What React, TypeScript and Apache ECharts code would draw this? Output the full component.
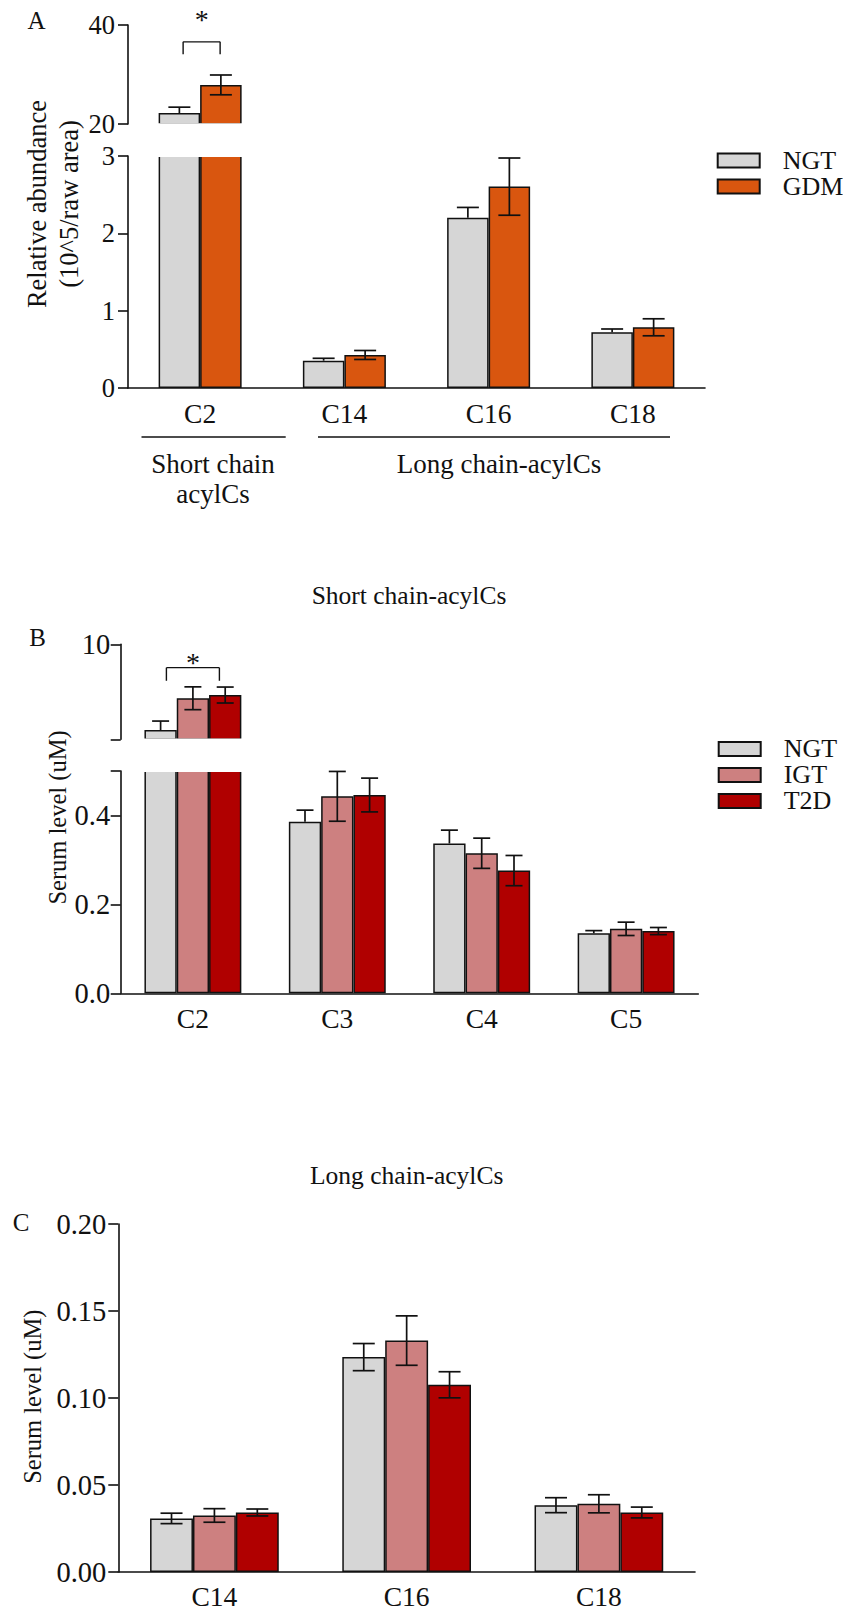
import React, { useEffect, useRef } from "react";
import * as echarts from "echarts";

const FONT = "'Liberation Serif', 'Times New Roman', Times, serif";
const INK = "#111111";
const GRAY = "#d6d6d6";
const ORANGE = "#d9560f";
const PINK = "#cd8080";
const RED = "#b00000";

// ---------- Panel A data ----------
const aCategories = ["C2", "C14", "C16", "C18"];
const aNGT = [22.2, 0.353, 2.2, 0.72];
const aNGTErr = [1.2, 0.031, 0.135, 0.043];
const aGDM = [27.9, 0.427, 2.604, 0.785];
const aGDMErr = [2.0, 0.058, 0.37, 0.11];
const aLowerMax = 3;
const aUpperMin = 20;
const aUpperMax = 40;
const aSig = [[0, 36.6, 34.1, 41.2]]; // category, bracket line, foot, star

// ---------- Panel B data ----------
const bCategories = ["C2", "C3", "C4", "C5"];
const bNGT = [5.49, 0.386, 0.337, 0.135];
const bNGTErr = [0.47, 0.026, 0.03, 0.006];
const bIGT = [7.16, 0.443, 0.315, 0.145];
const bIGTErr = [0.6, 0.056, 0.034, 0.015];
const bT2D = [7.33, 0.446, 0.276, 0.14];
const bT2DErr = [0.42, 0.038, 0.034, 0.008];
const bLowerMax = 0.5;
const bUpperMin = 5;
const bUpperMax = 10;
const bSig = [[0, 8.77, 8.08, 9.05]];

// ---------- Panel C data ----------
const cCategories = ["C14", "C16", "C18"];
const cNGT = [0.0308, 0.1235, 0.0384];
const cNGTErr = [0.003, 0.0078, 0.0043];
const cIGT = [0.0325, 0.133, 0.0392];
const cIGTErr = [0.0039, 0.0142, 0.0052];
const cT2D = [0.0342, 0.1076, 0.0342];
const cT2DErr = [0.002, 0.0075, 0.0031];

// ---------- layout ----------
const A = { left: 128, width: 577, upTop: 25, upH: 99, loTop: 156, loH: 232, bw: 41.5, cap: 22 };
const B = { left: 120.7, width: 577.6, upTop: 644.3, upH: 95, loTop: 771, loH: 222.3, bw: 32.3, cap: 17 };
const C = { left: 118.3, width: 576.7, top: 1224, h: 348.7, bw: 42.9, cap: 22 };

function barSeries(name: string, color: string, xi: number, data: any[], bw: number) {
  return {
    type: "bar",
    name,
    xAxisIndex: xi,
    yAxisIndex: xi,
    data,
    barWidth: bw,
    barGap: "0%",
    clip: true,
    z: 2,
    itemStyle: { color, borderColor: INK, borderWidth: 1.5 },
    emphasis: { disabled: true },
  };
}

function errSeries(
  xi: number,
  vals: number[],
  errs: number[],
  offset: number,
  capW: number,
  both: boolean,
  keep: (v: number) => boolean
) {
  const data = vals
    .map((v, i) => (keep(v) ? [i, v, errs[i], both ? 1 : 0] : null))
    .filter((d) => d !== null);
  return {
    type: "custom",
    xAxisIndex: xi,
    yAxisIndex: xi,
    z: 6,
    silent: true,
    clip: false,
    encode: { x: 0, y: 1 },
    data,
    renderItem: (params: any, api: any) => {
      const cat = api.value(0);
      const v = api.value(1);
      const e = api.value(2);
      const b = api.value(3);
      const p = api.coord([cat, v]);
      const t = api.coord([cat, v + e]);
      const lo = b ? api.coord([cat, v - e]) : p;
      const x = p[0] + offset;
      const style = { stroke: INK, lineWidth: 1.7 };
      const children: any[] = [
        { type: "line", shape: { x1: x, y1: t[1], x2: x, y2: lo[1] }, style },
        { type: "line", shape: { x1: x - capW / 2, y1: t[1], x2: x + capW / 2, y2: t[1] }, style },
      ];
      if (b) {
        children.push({ type: "line", shape: { x1: x - capW / 2, y1: lo[1], x2: x + capW / 2, y2: lo[1] }, style });
      }
      return { type: "group", children };
    },
  };
}

function sigSeries(xi: number, data: number[][], x1: number, x2: number) {
  return {
    type: "custom",
    xAxisIndex: xi,
    yAxisIndex: xi,
    z: 6,
    silent: true,
    clip: false,
    encode: { x: 0, y: 1 },
    data,
    renderItem: (params: any, api: any) => {
      const cat = api.value(0);
      const l = api.coord([cat, api.value(1)]);
      const f = api.coord([cat, api.value(2)]);
      const s = api.coord([cat, api.value(3)]);
      const style = { stroke: INK, lineWidth: 1.4 };
      return {
        type: "group",
        children: [
          { type: "line", shape: { x1: l[0] + x1, y1: l[1], x2: l[0] + x2, y2: l[1] }, style },
          { type: "line", shape: { x1: l[0] + x1, y1: l[1], x2: l[0] + x1, y2: f[1] }, style },
          { type: "line", shape: { x1: l[0] + x2, y1: l[1], x2: l[0] + x2, y2: f[1] }, style },
          {
            type: "text",
            x: l[0] + (x1 + x2) / 2,
            y: s[1],
            style: {
              text: "*",
              fontSize: 28,
              fontFamily: FONT,
              fill: INK,
              align: "center",
              verticalAlign: "middle",
            },
          },
        ],
      };
    },
  };
}

function catAxis(gi: number, cats: string[], show: boolean, margin: number, fontSize: number) {
  return {
    type: "category",
    gridIndex: gi,
    data: cats,
    show,
    axisLine: { onZero: false, lineStyle: { color: INK, width: 1.6 } },
    axisTick: { alignWithLabel: true, length: 9, lineStyle: { color: INK, width: 1.6 } },
    axisLabel: { color: INK, fontFamily: FONT, fontSize, margin },
  };
}

function valAxis(gi: number, min: number, max: number, interval: number, fmt: (v: number) => string, fontSize: number, margin: number) {
  return {
    type: "value",
    gridIndex: gi,
    min,
    max,
    interval,
    splitLine: { show: false },
    axisLine: { show: true, onZero: false, lineStyle: { color: INK, width: 1.6 } },
    axisTick: { show: true, length: 10, lineStyle: { color: INK, width: 1.6 } },
    axisLabel: { color: INK, fontFamily: FONT, fontSize, margin, formatter: fmt, showMaxLabel: true, showMinLabel: true },
  };
}

function txt(text: string, x: number, y: number, fontSize: number, rotation = 0) {
  return {
    type: "text",
    x,
    y,
    rotation,
    z: 20,
    style: { text, fontSize, fontFamily: FONT, fill: INK, align: "center", verticalAlign: "middle" },
  };
}

function hline(x1: number, x2: number, y: number) {
  return { type: "line", z: 20, shape: { x1, y1: y, x2, y2: y }, style: { stroke: INK, lineWidth: 1.4 } };
}

function gapRect(x: number, y1: number, x2: number, y2: number) {
  return { type: "rect", z: 30, shape: { x, y: y1, width: x2 - x, height: y2 - y1 }, style: { fill: "#ffffff" } };
}

export default function App() {
  const ref = useRef<HTMLDivElement>(null);
  useEffect(() => {
    if (!ref.current) return;
    const chart = echarts.init(ref.current, undefined, { renderer: "svg" });
    const upA = (v: number) => v >= aUpperMin;
    const loA = (v: number) => v < aLowerMax;
    const upB = (v: number) => v >= bUpperMin;
    const loB = (v: number) => v < bLowerMax;
    const all = () => true;

    const option: any = {
      animation: false,
      backgroundColor: "#ffffff",
      textStyle: { fontFamily: FONT },
      grid: [
        { left: A.left, width: A.width, top: A.upTop, height: A.upH },
        { left: A.left, width: A.width, top: A.loTop, height: A.loH },
        { left: B.left, width: B.width, top: B.upTop, height: B.upH },
        { left: B.left, width: B.width, top: B.loTop, height: B.loH },
        { left: C.left, width: C.width, top: C.top, height: C.h },
      ],
      xAxis: [
        catAxis(0, aCategories, false, 12, 27.5),
        catAxis(1, aCategories, true, 11, 27.5),
        catAxis(2, bCategories, false, 12, 27.5),
        catAxis(3, bCategories, true, 11, 27.5),
        catAxis(4, cCategories, true, 10, 27.5),
      ],
      yAxis: [
        valAxis(0, aUpperMin, aUpperMax, 20, (v) => String(v), 26.5, 13),
        valAxis(1, 0, aLowerMax, 1, (v) => String(v), 26.5, 13),
        valAxis(2, bUpperMin, bUpperMax, 5, (v) => (v === bUpperMin ? "" : String(v)), 28.5, 10.5),
        valAxis(3, 0, bLowerMax, 0.2, (v) => (v === bLowerMax ? "" : v.toFixed(1)), 28.5, 10.5),
        valAxis(4, 0, 0.2, 0.05, (v) => v.toFixed(2), 28.5, 12),
      ],
      legend: [
        {
          data: ["NGT", "GDM"],
          orient: "vertical",
          left: 716.7,
          top: 147.4,
          padding: 0,
          itemWidth: 42,
          itemHeight: 14,
          itemGap: 0,
          icon: "rect",
          selectedMode: false,
          textStyle: { fontFamily: FONT, fontSize: 26, color: INK, lineHeight: 22.6, padding: [0, 0, 0, 18] },
        },
        {
          data: ["NGT", "IGT", "T2D"],
          orient: "vertical",
          left: 717.7,
          top: 735.9,
          padding: 0,
          itemWidth: 42,
          itemHeight: 14,
          itemGap: 0,
          icon: "rect",
          selectedMode: false,
          textStyle: { fontFamily: FONT, fontSize: 26, color: INK, lineHeight: 24.3, padding: [0, 0, 0, 18] },
        },
      ],
      series: [
        // Panel A
        barSeries("NGT", GRAY, 0, aNGT.map((v) => (upA(v) ? v : "-")), A.bw),
        barSeries("GDM", ORANGE, 0, aGDM.map((v) => (upA(v) ? v : "-")), A.bw),
        barSeries("NGT", GRAY, 1, aNGT, A.bw),
        barSeries("GDM", ORANGE, 1, aGDM, A.bw),
        errSeries(0, aNGT, aNGTErr, -A.bw / 2, A.cap, false, upA),
        errSeries(0, aGDM, aGDMErr, A.bw / 2, A.cap, true, upA),
        errSeries(1, aNGT, aNGTErr, -A.bw / 2, A.cap, false, loA),
        errSeries(1, aGDM, aGDMErr, A.bw / 2, A.cap, true, loA),
        sigSeries(0, aSig, -17, 20),
        // Panel B
        barSeries("NGT", GRAY, 2, bNGT.map((v) => (upB(v) ? v : "-")), B.bw),
        barSeries("IGT", PINK, 2, bIGT.map((v) => (upB(v) ? v : "-")), B.bw),
        barSeries("T2D", RED, 2, bT2D.map((v) => (upB(v) ? v : "-")), B.bw),
        barSeries("NGT", GRAY, 3, bNGT, B.bw),
        barSeries("IGT", PINK, 3, bIGT, B.bw),
        barSeries("T2D", RED, 3, bT2D, B.bw),
        errSeries(2, bNGT, bNGTErr, -B.bw, B.cap, false, upB),
        errSeries(2, bIGT, bIGTErr, 0, B.cap, true, upB),
        errSeries(2, bT2D, bT2DErr, B.bw, B.cap, true, upB),
        errSeries(3, bNGT, bNGTErr, -B.bw, B.cap, false, loB),
        errSeries(3, bIGT, bIGTErr, 0, B.cap, true, loB),
        errSeries(3, bT2D, bT2DErr, B.bw, B.cap, true, loB),
        sigSeries(2, bSig, -26.5, 26.5),
        // Panel C
        barSeries("NGT", GRAY, 4, cNGT, C.bw),
        barSeries("IGT", PINK, 4, cIGT, C.bw),
        barSeries("T2D", RED, 4, cT2D, C.bw),
        errSeries(4, cNGT, cNGTErr, -C.bw, C.cap, true, all),
        errSeries(4, cIGT, cIGTErr, 0, C.cap, true, all),
        errSeries(4, cT2D, cT2DErr, C.bw, C.cap, true, all),
      ],
      graphic: [
        // axis-break gaps over the C2 bars
        gapRect(A.left + 20, A.upTop + A.upH - 0.8, A.left + 125, A.loTop + 0.9),
        gapRect(B.left + 18, B.upTop + B.upH - 0.8, B.left + 128, B.loTop + 0.9),
        // panel letters
        txt("A", 36.5, 20, 25),
        txt("B", 37.5, 637, 25),
        txt("C", 21, 1222, 25),
        // y-axis titles
        txt("Relative abundance", 37, 204, 26.5, Math.PI / 2),
        txt("(10^5/raw area)", 68.5, 204, 26.5, Math.PI / 2),
        txt("Serum level (uM)", 57, 817.5, 24.5, Math.PI / 2),
        txt("Serum level (uM)", 32, 1396.7, 24.5, Math.PI / 2),
        // panel titles
        txt("Short chain-acylCs", 409, 595, 25.5),
        txt("Long chain-acylCs", 406.7, 1175, 25.5),
        // group annotations for panel A
        hline(141.5, 285.7, 437),
        hline(318, 670, 437),
        txt("Short chain", 213, 464, 27),
        txt("acylCs", 213, 494, 27),
        txt("Long chain-acylCs", 499, 464, 27),
      ],
    };
    chart.setOption(option);
    return () => chart.dispose();
  }, []);
  return (
    <div
      ref={ref}
      style={{ position: "absolute", left: 0, top: 0, width: 843, height: 1610, background: "#fff" }}
    />
  );
}
